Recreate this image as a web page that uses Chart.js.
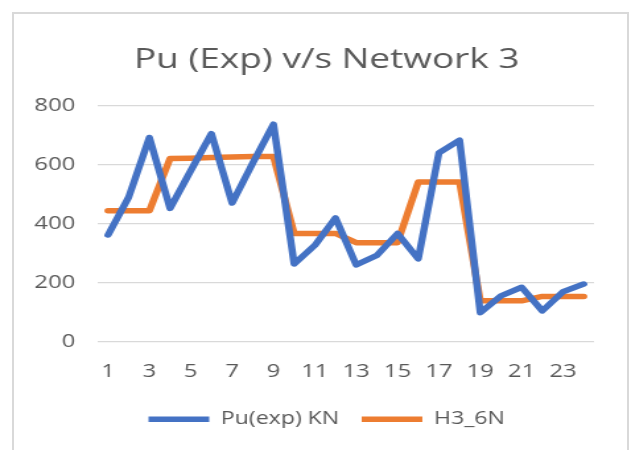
<!DOCTYPE html>
<html>
<head>
  <meta charset="UTF-8" />
  <title>Pu (Exp) v/s Network 3</title>
  <script src="https://cdn.jsdelivr.net/npm/chart.js"></script>
  <style>
    body { margin: 0; background: #fff; }
    #wrap { position: relative; width: 631px; height: 450px; overflow: hidden; }
    #frame {
      position: absolute; left: 12px; top: 12px; width: 613px; height: 460px;
      border: 2px solid #d9d9d9;
    }
    /* the original picture is stretched sideways, so draw narrower and widen */
    #stretch { position: absolute; left: 0; top: 0; transform: scaleX(1.32); transform-origin: 0 0; }
  </style>
</head>
<body>
  <div id="wrap">
    <div id="frame"></div>
    <div id="stretch"><canvas id="puChart" width="478" height="450"></canvas></div>
  </div>

  <script>
    const categories = ['1', '2', '3', '4', '5', '6', '7', '8', '9', '10', '11', '12',
      '13', '14', '15', '16', '17', '18', '19', '20', '21', '22', '23', '24'];
    const puExp = [362, 490, 692, 452, 580, 705, 470, 606, 737, 264, 327, 420,
      261, 293, 367, 281, 640, 683, 99, 156, 185, 105, 170, 196];
    const h3_6n = [444, 444, 444, 621, 622, 624, 626, 628, 628, 367, 367, 367,
      336, 336, 336, 541, 541, 541, 139, 139, 139, 154, 154, 154];
    const yTicks = [0, 200, 400, 600, 800];

    const grey = '#595959';
    const font = 'Open Sans';

    // title and legend sit a bit right of the canvas middle in the original
    const shiftBlocks = {
      id: 'shiftBlocks',
      afterLayout(chart) {
        [chart.titleBlock, chart.legend].forEach(b => { if (b) b.left += 45; });
      }
    };

    document.addEventListener('DOMContentLoaded', () => {
      const ctx = document.getElementById('puChart').getContext('2d');
      new Chart(ctx, {
        type: 'line',
        data: {
          labels: categories,
          datasets: [{
            label: 'Pu(exp) KN',
            data: puExp,
            borderColor: '#4472c4',
            backgroundColor: '#4472c4',
            borderWidth: 5.5,
            borderCapStyle: 'round',
            borderJoinStyle: 'round',
            pointRadius: 0,
            tension: 0
          }, {
            label: 'H3_6N',
            data: h3_6n,
            borderColor: '#ed7d31',
            backgroundColor: '#ed7d31',
            borderWidth: 5.5,
            borderCapStyle: 'round',
            borderJoinStyle: 'round',
            pointRadius: 0,
            tension: 0
          }]
        },
        options: {
          responsive: false,
          animation: false,
          layout: { padding: { left: 0, right: 28, top: 0, bottom: 12 } },
          plugins: {
            title: {
              display: true,
              text: 'Pu (Exp) v/s Network 3',
              color: grey,
              font: { family: font, size: 28, weight: 'normal' },
              padding: { top: 43, bottom: 29 }
            },
            legend: {
              position: 'bottom',
              labels: {
                color: grey,
                font: { family: font, size: 17.5 },
                usePointStyle: true,
                pointStyle: 'line',
                pointStyleWidth: 46,
                boxHeight: 5,
                padding: 17
              }
            },
            tooltip: { enabled: false }
          },
          scales: {
            x: {
              offset: true,
              grid: { display: false },
              border: { display: false },
              ticks: {
                color: grey,
                font: { family: font, size: 18 },
                autoSkip: false,
                maxRotation: 0,
                padding: 11,
                callback: function (val, i) { return i % 2 === 0 ? categories[i] : ''; }
              }
            },
            y: {
              min: yTicks[0],
              max: yTicks[yTicks.length - 1],
              afterFit: function (scale) { scale.width = 74; },
              afterBuildTicks: function (scale) { scale.ticks = yTicks.map(v => ({ value: v })); },
              grid: { color: '#d9d9d9', lineWidth: 1.3, drawTicks: false },
              border: { display: false },
              ticks: {
                color: grey,
                font: { family: font, size: 18 },
                padding: 17
              }
            }
          }
        },
        plugins: [shiftBlocks]
      });
    });
  </script>
</body>
</html>
